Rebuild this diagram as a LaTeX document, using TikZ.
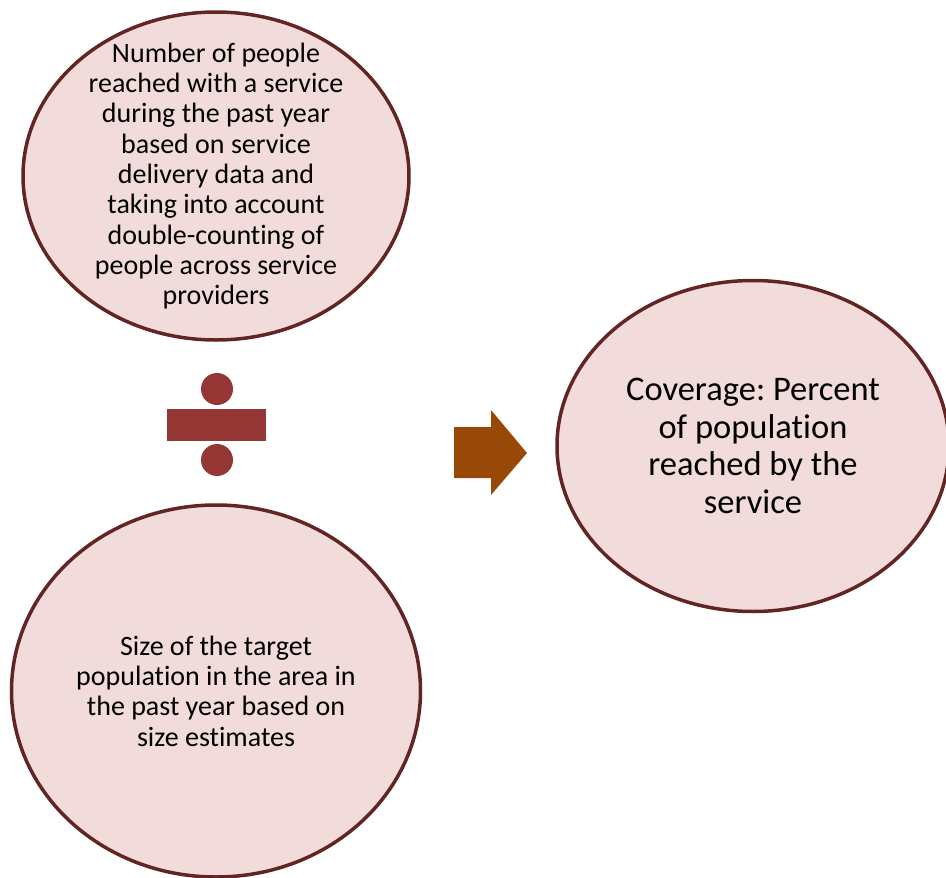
\documentclass[tikz,border=0pt]{standalone}
\usepackage{fontspec}
\setmainfont{Carlito}[Ligatures=NoCommon]
\usepackage{tikz}
\usetikzlibrary{shapes,positioning,calc}
\frenchspacing

\definecolor{ovalfill}{HTML}{F2DCDB}
\definecolor{ovalline}{HTML}{632523}
\definecolor{divred}{HTML}{953735}
\definecolor{arrowbrown}{HTML}{984807}

\begin{document}
\begin{tikzpicture}[x=1pt,y=1pt,
    oval/.style={ellipse,draw=ovalline,fill=ovalfill,line width=3.5pt,inner sep=0pt,align=center}]

% Fix the page size.
    \useasboundingbox (0,0) rectangle (946,-878);

% Ovals with text.
    \node[oval,inner ysep=-24pt,minimum width=386,minimum height=328,font=\fontsize{28}{30.3}\selectfont] (reached) at (216,-176)
        {Number of people\\reached with a service\\during the past year\\based on service\\delivery data and\\taking into account\\double-counting of\\people across service\\providers};
    \node[oval,minimum width=409,minimum height=372,font=\fontsize{28}{30.3}\selectfont] (target) at (216,-691)
        {Size of the target\\population in the area in\\the past year based on\\size estimates};
    \node[oval,minimum width=392,minimum height=331,font=\fontsize{34.5}{37.7}\selectfont] (coverage) at (753,-446)
        {Coverage: Percent\\of population\\reached by the\\service};

% Division sign.
    \fill[divred] (217,-389) circle (16);
    \fill[divred] (167,-409) rectangle (266,-441);
    \fill[divred] (217,-460) circle (16);

% Block arrow towards the result.
    \fill[arrowbrown] (454,-427) -- (491,-427) -- (491,-410) -- (527,-453)
        -- (491,-495) -- (491,-478) -- (454,-478) -- cycle;

\end{tikzpicture}
\end{document}
